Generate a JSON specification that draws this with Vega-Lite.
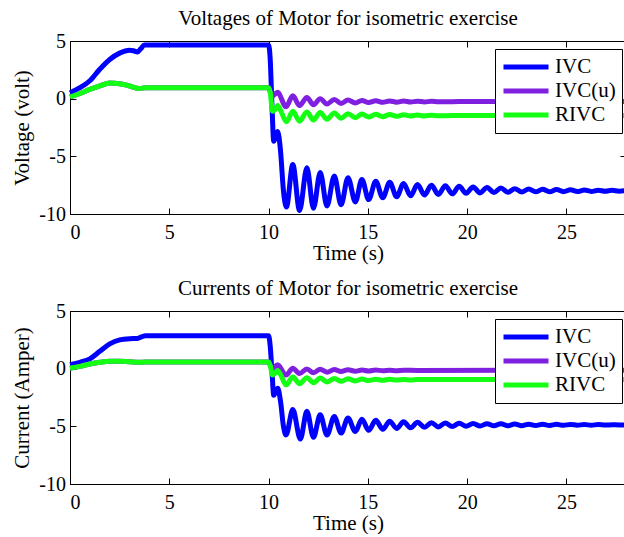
{
  "$schema": "https://vega.github.io/schema/vega-lite/v6.json",
  "background": "white",
  "padding": {"left": 11, "top": 7, "right": 0, "bottom": 0},
  "spacing": 13,
  "config": {
    "font": "Liberation Serif",
    "view": {"stroke": "black", "strokeWidth": 1},
    "axis": {
      "grid": false,
      "domainColor": "black",
      "tickColor": "black",
      "labelColor": "black",
      "titleColor": "black",
      "labelFont": "Liberation Serif",
      "titleFont": "Liberation Serif",
      "labelFontSize": 20,
      "titleFontSize": 21,
      "titleFontWeight": "normal",
      "tickSize": -6,
      "labelExpr": "'' + datum.value"
    },
    "axisX": {"labelPadding": 14, "titlePadding": 0.5},
    "axisY": {"labelPadding": 10.5, "titlePadding": 6},
    "title": {
      "font": "Liberation Serif",
      "fontSize": 21,
      "fontWeight": "normal",
      "color": "black",
      "anchor": "middle",
      "frame": "group",
      "baseline": "alphabetic",
      "offset": 2
    },
    "legend": {
      "orient": "none",
      "legendX": 425,
      "legendY": 8,
      "strokeColor": "black",
      "fillColor": "white",
      "padding": 6,
      "cornerRadius": 0,
      "symbolType": "stroke",
      "symbolSize": 2025,
      "symbolStrokeWidth": 4.5,
      "labelFont": "Liberation Serif",
      "labelFontSize": 21,
      "labelColor": "black",
      "labelOffset": 4,
      "clipHeight": 24,
      "rowPadding": 0
    },
    "line": {"strokeWidth": 5, "interpolate": "monotone"}
  },
  "datasets": {
    "voltage": [
      {"t": 0, "s": "IVC", "v": 0.5}, {"t": 0.5, "s": "IVC", "v": 0.95}, {"t": 1.0, "s": "IVC", "v": 1.55},
      {"t": 1.5, "s": "IVC", "v": 2.55}, {"t": 2.0, "s": "IVC", "v": 3.4}, {"t": 2.5, "s": "IVC", "v": 3.95},
      {"t": 3.0, "s": "IVC", "v": 4.2}, {"t": 3.2, "s": "IVC", "v": 4.15}, {"t": 3.4, "s": "IVC", "v": 4.05},
      {"t": 3.55, "s": "IVC", "v": 4.3}, {"t": 3.75, "s": "IVC", "v": 4.65}, {"t": 10.0, "s": "IVC", "v": 4.65},
      {"t": 10.08, "s": "IVC", "v": 3.5}, {"t": 10.18, "s": "IVC", "v": -1.0}, {"t": 10.26, "s": "IVC", "v": -3.7},
      {"t": 10.36, "s": "IVC", "v": -3.3}, {"t": 10.46, "s": "IVC", "v": -2.85}, {"t": 10.6, "s": "IVC", "v": -4.5},
      {"t": 10.75, "s": "IVC", "v": -8.0}, {"t": 10.9, "s": "IVC", "v": -9.4}, {"t": 11.22, "s": "IVC", "v": -5.7},
      {"t": 11.56, "s": "IVC", "v": -9.7}, {"t": 11.93, "s": "IVC", "v": -6.0}, {"t": 12.26, "s": "IVC", "v": -9.5},
      {"t": 12.6, "s": "IVC", "v": -6.4}, {"t": 12.94, "s": "IVC", "v": -9.3}, {"t": 13.31, "s": "IVC", "v": -6.7},
      {"t": 13.65, "s": "IVC", "v": -9.2}, {"t": 14.0, "s": "IVC", "v": -6.85}, {"t": 14.37, "s": "IVC", "v": -8.95},
      {"t": 14.7, "s": "IVC", "v": -7.0}, {"t": 15.04, "s": "IVC", "v": -8.75}, {"t": 15.4, "s": "IVC", "v": -7.15},
      {"t": 15.75, "s": "IVC", "v": -8.6}, {"t": 16.1, "s": "IVC", "v": -7.25}, {"t": 16.45, "s": "IVC", "v": -8.5},
      {"t": 16.8, "s": "IVC", "v": -7.35}, {"t": 17.15, "s": "IVC", "v": -8.42}, {"t": 17.5, "s": "IVC", "v": -7.45},
      {"t": 17.85, "s": "IVC", "v": -8.35}, {"t": 18.2, "s": "IVC", "v": -7.5}, {"t": 18.55, "s": "IVC", "v": -8.3},
      {"t": 18.9, "s": "IVC", "v": -7.55}, {"t": 19.25, "s": "IVC", "v": -8.25}, {"t": 19.6, "s": "IVC", "v": -7.6},
      {"t": 19.95, "s": "IVC", "v": -8.2}, {"t": 20.3, "s": "IVC", "v": -7.65}, {"t": 20.65, "s": "IVC", "v": -8.17},
      {"t": 21.0, "s": "IVC", "v": -7.7}, {"t": 21.35, "s": "IVC", "v": -8.14}, {"t": 21.7, "s": "IVC", "v": -7.75},
      {"t": 22.05, "s": "IVC", "v": -8.12}, {"t": 22.4, "s": "IVC", "v": -7.8}, {"t": 22.75, "s": "IVC", "v": -8.1},
      {"t": 23.1, "s": "IVC", "v": -7.83}, {"t": 23.45, "s": "IVC", "v": -8.08}, {"t": 23.8, "s": "IVC", "v": -7.86},
      {"t": 24.15, "s": "IVC", "v": -8.07}, {"t": 24.5, "s": "IVC", "v": -7.88}, {"t": 24.85, "s": "IVC", "v": -8.06},
      {"t": 25.2, "s": "IVC", "v": -7.9}, {"t": 25.55, "s": "IVC", "v": -8.05}, {"t": 25.9, "s": "IVC", "v": -7.92},
      {"t": 26.25, "s": "IVC", "v": -8.04}, {"t": 26.6, "s": "IVC", "v": -7.94}, {"t": 26.95, "s": "IVC", "v": -8.03},
      {"t": 27.3, "s": "IVC", "v": -7.95}, {"t": 27.65, "s": "IVC", "v": -8.02}, {"t": 28.0, "s": "IVC", "v": -7.97},

      {"t": 0, "s": "IVC(u)", "v": 0.15}, {"t": 0.5, "s": "IVC(u)", "v": 0.45}, {"t": 1.0, "s": "IVC(u)", "v": 0.8},
      {"t": 1.5, "s": "IVC(u)", "v": 1.1}, {"t": 2.0, "s": "IVC(u)", "v": 1.35}, {"t": 2.5, "s": "IVC(u)", "v": 1.3},
      {"t": 3.0, "s": "IVC(u)", "v": 1.1}, {"t": 3.5, "s": "IVC(u)", "v": 0.88}, {"t": 3.8, "s": "IVC(u)", "v": 0.95},
      {"t": 10.0, "s": "IVC(u)", "v": 0.95}, {"t": 10.08, "s": "IVC(u)", "v": 0.6}, {"t": 10.2, "s": "IVC(u)", "v": 0.25},
      {"t": 10.45, "s": "IVC(u)", "v": 0.55}, {"t": 10.88, "s": "IVC(u)", "v": -0.7}, {"t": 11.22, "s": "IVC(u)", "v": 0.25},
      {"t": 11.56, "s": "IVC(u)", "v": -0.6}, {"t": 11.93, "s": "IVC(u)", "v": 0.1}, {"t": 12.26, "s": "IVC(u)", "v": -0.52},
      {"t": 12.6, "s": "IVC(u)", "v": 0.0}, {"t": 12.94, "s": "IVC(u)", "v": -0.46}, {"t": 13.31, "s": "IVC(u)", "v": -0.07},
      {"t": 13.65, "s": "IVC(u)", "v": -0.41}, {"t": 14.0, "s": "IVC(u)", "v": -0.12}, {"t": 14.37, "s": "IVC(u)", "v": -0.37},
      {"t": 14.7, "s": "IVC(u)", "v": -0.15}, {"t": 15.04, "s": "IVC(u)", "v": -0.34}, {"t": 15.4, "s": "IVC(u)", "v": -0.18},
      {"t": 15.75, "s": "IVC(u)", "v": -0.32}, {"t": 16.1, "s": "IVC(u)", "v": -0.2}, {"t": 16.45, "s": "IVC(u)", "v": -0.3},
      {"t": 16.8, "s": "IVC(u)", "v": -0.21}, {"t": 17.15, "s": "IVC(u)", "v": -0.29}, {"t": 17.5, "s": "IVC(u)", "v": -0.22},
      {"t": 17.85, "s": "IVC(u)", "v": -0.28}, {"t": 18.2, "s": "IVC(u)", "v": -0.23}, {"t": 18.55, "s": "IVC(u)", "v": -0.27},
      {"t": 19.25, "s": "IVC(u)", "v": -0.26}, {"t": 20.0, "s": "IVC(u)", "v": -0.25}, {"t": 28.0, "s": "IVC(u)", "v": -0.25},

      {"t": 0, "s": "RIVC", "v": 0.15}, {"t": 0.5, "s": "RIVC", "v": 0.45}, {"t": 1.0, "s": "RIVC", "v": 0.8},
      {"t": 1.5, "s": "RIVC", "v": 1.1}, {"t": 2.0, "s": "RIVC", "v": 1.35}, {"t": 2.5, "s": "RIVC", "v": 1.3},
      {"t": 3.0, "s": "RIVC", "v": 1.1}, {"t": 3.5, "s": "RIVC", "v": 0.88}, {"t": 3.8, "s": "RIVC", "v": 0.95},
      {"t": 10.0, "s": "RIVC", "v": 0.95}, {"t": 10.08, "s": "RIVC", "v": 0.6}, {"t": 10.2, "s": "RIVC", "v": -1.1},
      {"t": 10.3, "s": "RIVC", "v": -1.0}, {"t": 10.46, "s": "RIVC", "v": -0.6}, {"t": 10.6, "s": "RIVC", "v": -1.0},
      {"t": 10.9, "s": "RIVC", "v": -2.0}, {"t": 11.22, "s": "RIVC", "v": -1.1}, {"t": 11.56, "s": "RIVC", "v": -1.95},
      {"t": 11.93, "s": "RIVC", "v": -1.15}, {"t": 12.26, "s": "RIVC", "v": -1.85}, {"t": 12.6, "s": "RIVC", "v": -1.2},
      {"t": 12.94, "s": "RIVC", "v": -1.78}, {"t": 13.31, "s": "RIVC", "v": -1.25}, {"t": 13.65, "s": "RIVC", "v": -1.7},
      {"t": 14.0, "s": "RIVC", "v": -1.3}, {"t": 14.37, "s": "RIVC", "v": -1.65}, {"t": 14.7, "s": "RIVC", "v": -1.33},
      {"t": 15.04, "s": "RIVC", "v": -1.6}, {"t": 15.4, "s": "RIVC", "v": -1.36}, {"t": 15.75, "s": "RIVC", "v": -1.56},
      {"t": 16.1, "s": "RIVC", "v": -1.38}, {"t": 16.45, "s": "RIVC", "v": -1.53}, {"t": 16.8, "s": "RIVC", "v": -1.4},
      {"t": 17.15, "s": "RIVC", "v": -1.51}, {"t": 17.5, "s": "RIVC", "v": -1.42}, {"t": 17.85, "s": "RIVC", "v": -1.5},
      {"t": 18.2, "s": "RIVC", "v": -1.43}, {"t": 18.55, "s": "RIVC", "v": -1.49}, {"t": 19.25, "s": "RIVC", "v": -1.47},
      {"t": 20.0, "s": "RIVC", "v": -1.46}, {"t": 28.0, "s": "RIVC", "v": -1.46}
    ],
    "current": [
      {"t": 0, "s": "IVC", "v": 0.35}, {"t": 0.5, "s": "IVC", "v": 0.55}, {"t": 1.0, "s": "IVC", "v": 0.85},
      {"t": 1.5, "s": "IVC", "v": 1.5}, {"t": 2.0, "s": "IVC", "v": 2.15}, {"t": 2.5, "s": "IVC", "v": 2.5},
      {"t": 3.0, "s": "IVC", "v": 2.6}, {"t": 3.4, "s": "IVC", "v": 2.62}, {"t": 3.6, "s": "IVC", "v": 2.75},
      {"t": 3.8, "s": "IVC", "v": 2.85}, {"t": 10.0, "s": "IVC", "v": 2.85}, {"t": 10.08, "s": "IVC", "v": 2.0},
      {"t": 10.18, "s": "IVC", "v": -0.5}, {"t": 10.26, "s": "IVC", "v": -2.3}, {"t": 10.36, "s": "IVC", "v": -2.0},
      {"t": 10.46, "s": "IVC", "v": -1.7}, {"t": 10.6, "s": "IVC", "v": -2.8}, {"t": 10.75, "s": "IVC", "v": -5.0},
      {"t": 10.88, "s": "IVC", "v": -5.75}, {"t": 11.22, "s": "IVC", "v": -3.55}, {"t": 11.6, "s": "IVC", "v": -6.1},
      {"t": 11.93, "s": "IVC", "v": -3.7}, {"t": 12.26, "s": "IVC", "v": -5.95}, {"t": 12.6, "s": "IVC", "v": -4.0},
      {"t": 12.94, "s": "IVC", "v": -5.75}, {"t": 13.31, "s": "IVC", "v": -4.15}, {"t": 13.65, "s": "IVC", "v": -5.58},
      {"t": 14.0, "s": "IVC", "v": -4.28}, {"t": 14.37, "s": "IVC", "v": -5.45}, {"t": 14.7, "s": "IVC", "v": -4.38},
      {"t": 15.04, "s": "IVC", "v": -5.35}, {"t": 15.4, "s": "IVC", "v": -4.48}, {"t": 15.75, "s": "IVC", "v": -5.25},
      {"t": 16.1, "s": "IVC", "v": -4.55}, {"t": 16.45, "s": "IVC", "v": -5.18}, {"t": 16.8, "s": "IVC", "v": -4.6},
      {"t": 17.15, "s": "IVC", "v": -5.12}, {"t": 17.5, "s": "IVC", "v": -4.65}, {"t": 17.85, "s": "IVC", "v": -5.08},
      {"t": 18.2, "s": "IVC", "v": -4.68}, {"t": 18.55, "s": "IVC", "v": -5.05}, {"t": 18.9, "s": "IVC", "v": -4.71},
      {"t": 19.25, "s": "IVC", "v": -5.02}, {"t": 19.6, "s": "IVC", "v": -4.73}, {"t": 19.95, "s": "IVC", "v": -5.0},
      {"t": 20.3, "s": "IVC", "v": -4.75}, {"t": 20.65, "s": "IVC", "v": -4.98}, {"t": 21.0, "s": "IVC", "v": -4.77},
      {"t": 21.35, "s": "IVC", "v": -4.96}, {"t": 21.7, "s": "IVC", "v": -4.78}, {"t": 22.05, "s": "IVC", "v": -4.95},
      {"t": 22.4, "s": "IVC", "v": -4.8}, {"t": 22.75, "s": "IVC", "v": -4.94}, {"t": 23.1, "s": "IVC", "v": -4.81},
      {"t": 23.45, "s": "IVC", "v": -4.93}, {"t": 23.8, "s": "IVC", "v": -4.82}, {"t": 24.15, "s": "IVC", "v": -4.92},
      {"t": 24.5, "s": "IVC", "v": -4.83}, {"t": 24.85, "s": "IVC", "v": -4.91}, {"t": 25.2, "s": "IVC", "v": -4.84},
      {"t": 25.55, "s": "IVC", "v": -4.9}, {"t": 25.9, "s": "IVC", "v": -4.85}, {"t": 26.25, "s": "IVC", "v": -4.9},
      {"t": 26.6, "s": "IVC", "v": -4.85}, {"t": 26.95, "s": "IVC", "v": -4.89}, {"t": 27.3, "s": "IVC", "v": -4.86},
      {"t": 27.65, "s": "IVC", "v": -4.88}, {"t": 28.0, "s": "IVC", "v": -4.87},

      {"t": 0, "s": "IVC(u)", "v": 0.03}, {"t": 0.5, "s": "IVC(u)", "v": 0.2}, {"t": 1.0, "s": "IVC(u)", "v": 0.4},
      {"t": 1.5, "s": "IVC(u)", "v": 0.55}, {"t": 2.0, "s": "IVC(u)", "v": 0.65}, {"t": 2.5, "s": "IVC(u)", "v": 0.65},
      {"t": 3.0, "s": "IVC(u)", "v": 0.6}, {"t": 3.5, "s": "IVC(u)", "v": 0.55}, {"t": 3.8, "s": "IVC(u)", "v": 0.58},
      {"t": 10.0, "s": "IVC(u)", "v": 0.58}, {"t": 10.08, "s": "IVC(u)", "v": 0.3}, {"t": 10.2, "s": "IVC(u)", "v": 0.0},
      {"t": 10.45, "s": "IVC(u)", "v": 0.33}, {"t": 10.88, "s": "IVC(u)", "v": -0.55}, {"t": 11.22, "s": "IVC(u)", "v": 0.04},
      {"t": 11.56, "s": "IVC(u)", "v": -0.42}, {"t": 11.93, "s": "IVC(u)", "v": -0.02}, {"t": 12.26, "s": "IVC(u)", "v": -0.35},
      {"t": 12.6, "s": "IVC(u)", "v": -0.06}, {"t": 12.94, "s": "IVC(u)", "v": -0.3}, {"t": 13.31, "s": "IVC(u)", "v": -0.08},
      {"t": 13.65, "s": "IVC(u)", "v": -0.25}, {"t": 14.0, "s": "IVC(u)", "v": -0.1}, {"t": 14.37, "s": "IVC(u)", "v": -0.22},
      {"t": 14.7, "s": "IVC(u)", "v": -0.11}, {"t": 15.04, "s": "IVC(u)", "v": -0.2}, {"t": 15.4, "s": "IVC(u)", "v": -0.12},
      {"t": 15.75, "s": "IVC(u)", "v": -0.18}, {"t": 16.1, "s": "IVC(u)", "v": -0.13}, {"t": 16.45, "s": "IVC(u)", "v": -0.17},
      {"t": 16.8, "s": "IVC(u)", "v": -0.14}, {"t": 17.5, "s": "IVC(u)", "v": -0.15}, {"t": 28.0, "s": "IVC(u)", "v": -0.14},

      {"t": 0, "s": "RIVC", "v": 0.03}, {"t": 0.5, "s": "RIVC", "v": 0.2}, {"t": 1.0, "s": "RIVC", "v": 0.4},
      {"t": 1.5, "s": "RIVC", "v": 0.55}, {"t": 2.0, "s": "RIVC", "v": 0.65}, {"t": 2.5, "s": "RIVC", "v": 0.65},
      {"t": 3.0, "s": "RIVC", "v": 0.6}, {"t": 3.5, "s": "RIVC", "v": 0.55}, {"t": 3.8, "s": "RIVC", "v": 0.58},
      {"t": 10.0, "s": "RIVC", "v": 0.58}, {"t": 10.08, "s": "RIVC", "v": 0.3}, {"t": 10.2, "s": "RIVC", "v": -0.55},
      {"t": 10.3, "s": "RIVC", "v": -0.45}, {"t": 10.46, "s": "RIVC", "v": -0.15}, {"t": 10.6, "s": "RIVC", "v": -0.5},
      {"t": 10.88, "s": "RIVC", "v": -1.4}, {"t": 11.22, "s": "RIVC", "v": -0.72}, {"t": 11.56, "s": "RIVC", "v": -1.3},
      {"t": 11.93, "s": "RIVC", "v": -0.78}, {"t": 12.26, "s": "RIVC", "v": -1.22}, {"t": 12.6, "s": "RIVC", "v": -0.82},
      {"t": 12.94, "s": "RIVC", "v": -1.15}, {"t": 13.31, "s": "RIVC", "v": -0.85}, {"t": 13.65, "s": "RIVC", "v": -1.1},
      {"t": 14.0, "s": "RIVC", "v": -0.88}, {"t": 14.37, "s": "RIVC", "v": -1.06}, {"t": 14.7, "s": "RIVC", "v": -0.9},
      {"t": 15.04, "s": "RIVC", "v": -1.03}, {"t": 15.4, "s": "RIVC", "v": -0.91}, {"t": 15.75, "s": "RIVC", "v": -1.01},
      {"t": 16.1, "s": "RIVC", "v": -0.92}, {"t": 16.45, "s": "RIVC", "v": -0.99}, {"t": 16.8, "s": "RIVC", "v": -0.93},
      {"t": 17.15, "s": "RIVC", "v": -0.98}, {"t": 17.5, "s": "RIVC", "v": -0.94}, {"t": 18.0, "s": "RIVC", "v": -0.95},
      {"t": 28.0, "s": "RIVC", "v": -0.94}
    ]
  },
  "vconcat": [
    {
      "title": "Voltages of Motor for isometric exercise",
      "width": 556,
      "height": 173,
      "data": {"name": "voltage"},
      "layer": [
        {
          "mark": {"type": "line"},
          "encoding": {
            "x": {"field": "t", "type": "quantitative", "scale": {"domain": [0, 28], "nice": false},
                  "axis": {"title": "Time (s)", "values": [0, 5, 10, 15, 20, 25]}},
            "y": {"field": "v", "type": "quantitative", "scale": {"domain": [-10, 5], "nice": false},
                  "axis": {"title": "Voltage (volt)", "values": [-10, -5, 0, 5]}},
            "color": {"field": "s", "type": "nominal",
                      "scale": {"domain": ["IVC", "IVC(u)", "RIVC"], "range": ["#0000ff", "#7f1fe0", "#14ff14"]},
                      "legend": {"title": null}}
          }
        },
        {
          "mark": {"type": "line", "opacity": 0},
          "encoding": {
            "x": {"field": "t", "type": "quantitative",
                  "axis": {"orient": "top", "title": null, "labels": false, "values": [0, 5, 10, 15, 20, 25]}},
            "y": {"field": "v", "type": "quantitative",
                  "axis": {"orient": "right", "title": null, "labels": false, "values": [-10, -5, 0, 5]}}
          }
        }
      ],
      "resolve": {"axis": {"x": "independent", "y": "independent"}}
    },
    {
      "title": "Currents of Motor for isometric exercise",
      "width": 556,
      "height": 173,
      "data": {"name": "current"},
      "layer": [
        {
          "mark": {"type": "line"},
          "encoding": {
            "x": {"field": "t", "type": "quantitative", "scale": {"domain": [0, 28], "nice": false},
                  "axis": {"title": "Time (s)", "values": [0, 5, 10, 15, 20, 25]}},
            "y": {"field": "v", "type": "quantitative", "scale": {"domain": [-10, 5], "nice": false},
                  "axis": {"title": "Current (Amper)", "values": [-10, -5, 0, 5]}},
            "color": {"field": "s", "type": "nominal",
                      "scale": {"domain": ["IVC", "IVC(u)", "RIVC"], "range": ["#0000ff", "#7f1fe0", "#14ff14"]},
                      "legend": {"title": null}}
          }
        },
        {
          "mark": {"type": "line", "opacity": 0},
          "encoding": {
            "x": {"field": "t", "type": "quantitative",
                  "axis": {"orient": "top", "title": null, "labels": false, "values": [0, 5, 10, 15, 20, 25]}},
            "y": {"field": "v", "type": "quantitative",
                  "axis": {"orient": "right", "title": null, "labels": false, "values": [-10, -5, 0, 5]}}
          }
        }
      ],
      "resolve": {"axis": {"x": "independent", "y": "independent"}}
    }
  ],
  "resolve": {"legend": {"color": "independent"}, "scale": {"color": "independent"}}
}
